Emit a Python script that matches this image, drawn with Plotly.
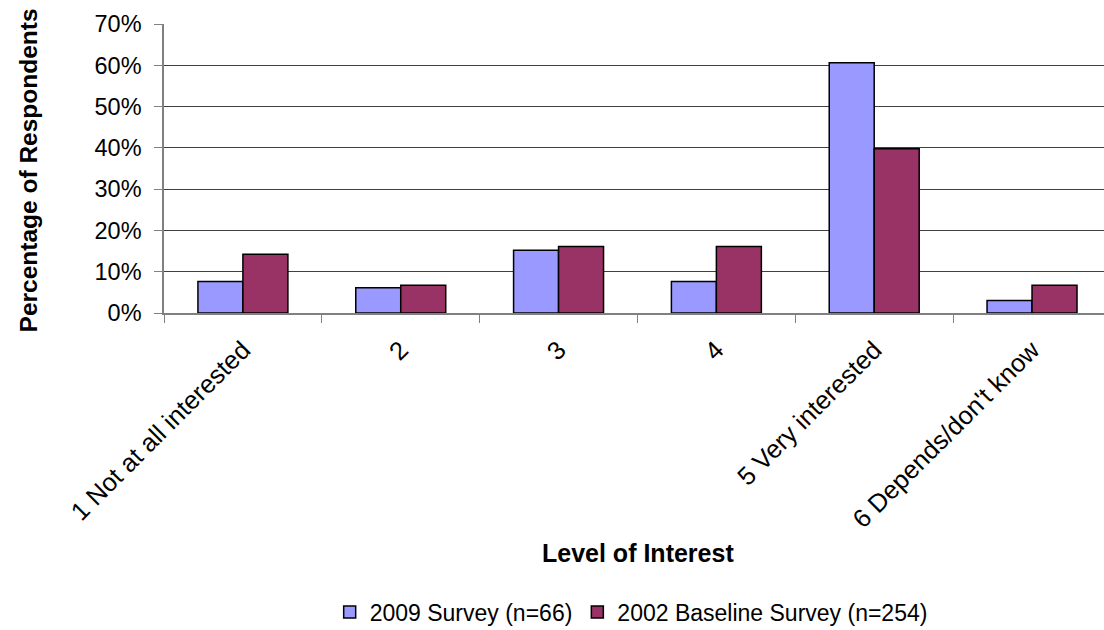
import plotly.graph_objects as go

# Survey responses: share of respondents by level of interest
categories = [
    "1 Not at all interested",
    "2",
    "3",
    "4",
    "5 Very interested",
    "6 Depends/don't know",
]
survey_2009 = [7.6, 6.1, 15.2, 7.6, 60.6, 3.0]       # n=66
baseline_2002 = [14.2, 6.7, 16.1, 16.1, 39.8, 6.7]   # n=254
y_ticks = [0, 10, 20, 30, 40, 50, 60, 70]
y_tick_labels = [f"{v}%" for v in y_ticks]

FONT = "Liberation Sans, Arial, sans-serif"
W, H = 1104, 630
L, T, B = 164, 24, 317

fig = go.Figure()
fig.add_trace(go.Bar(
    name="2009 Survey (n=66)",
    x=categories, y=survey_2009,
    marker=dict(color="#9999FF", line=dict(color="#000000", width=1.5)),
))
fig.add_trace(go.Bar(
    name="2002 Baseline Survey (n=254)",
    x=categories, y=baseline_2002,
    marker=dict(color="#993366", line=dict(color="#000000", width=1.5)),
))

fig.update_layout(
    width=W, height=H,
    margin=dict(l=L, r=0, t=T, b=B, pad=0, autoexpand=False),
    paper_bgcolor="white", plot_bgcolor="white",
    barmode="group", bargap=0.43, bargroupgap=0,
    font=dict(family=FONT, size=23.5, color="#000000"),
    showlegend=True,
    legend=dict(
        orientation="h", x=0.497, y=-1.035,
        xanchor="center", yanchor="middle",
        font=dict(family=FONT, size=23),
        itemwidth=30, tracegroupgap=0,
    ),
)

fig.update_xaxes(
    type="category",
    range=[-0.5, 5.456],
    tickangle=-45,
    tickson="boundaries",
    ticks="outside", ticklen=8, tickcolor="#808080", tickwidth=1,
    showline=True, linecolor="#808080", linewidth=1.5,
    showgrid=False,
    tickfont=dict(family=FONT, size=25.5),
    ticklabelstandoff=10,
    automargin=False,
)
fig.update_yaxes(
    range=[0, 70],
    tickvals=y_ticks, ticktext=y_tick_labels,
    ticks="outside", ticklen=8, tickcolor="#808080", tickwidth=1,
    showline=True, linecolor="#808080", linewidth=1.5,
    showgrid=True, gridcolor="#404040", gridwidth=1,
    zeroline=False,
    tickfont=dict(family=FONT, size=23.5),
    ticklabelstandoff=8,
    automargin=False,
)

# Axis titles
fig.add_annotation(
    text="<b>Level of Interest</b>", xref="paper", yref="paper",
    x=0.504, y=-0.832, showarrow=False,
    xanchor="center", yanchor="middle",
    font=dict(family=FONT, size=25),
)
fig.add_annotation(
    text="<b>Percentage of Respondents</b>", xref="paper", yref="paper",
    x=-0.1445, y=0.494, showarrow=False, textangle=-90,
    xanchor="center", yanchor="middle",
    font=dict(family=FONT, size=24.5),
)

fig.write_html("out.html")
